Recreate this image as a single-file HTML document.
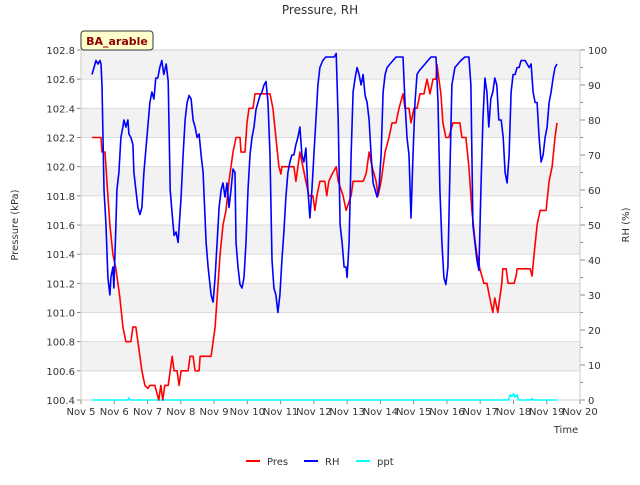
<!DOCTYPE html>
<html><head><meta charset="utf-8"><style>
body{margin:0;background:#fff;font-family:"Liberation Sans","DejaVu Sans",sans-serif}
svg text{font-family:"DejaVu Sans","Liberation Sans",sans-serif}
</style></head><body>
<svg id="c" width="640" height="480" xmlns="http://www.w3.org/2000/svg"></svg>
<script>
const presT=[0.33,0.60,0.63,0.72,0.78,0.87,0.96,1.05,1.17,1.26,1.35,1.50,1.56,1.65,1.71,1.77,1.83,1.92,2.01,2.07,2.22,2.28,2.34,2.40,2.46,2.52,2.62,2.68,2.74,2.80,2.89,2.95,3.01,3.22,3.28,3.37,3.43,3.55,3.58,3.91,4.03,4.12,4.18,4.27,4.36,4.45,4.51,4.57,4.66,4.78,4.81,4.93,4.99,5.05,5.17,5.23,5.44,5.68,5.77,5.86,5.95,6.01,6.04,6.40,6.46,6.58,6.67,6.76,6.85,6.97,7.03,7.09,7.18,7.33,7.39,7.45,7.55,7.67,7.73,7.88,7.97,8.12,8.18,8.48,8.57,8.66,8.75,8.87,8.93,9.02,9.14,9.26,9.35,9.47,9.56,9.68,9.74,9.86,9.92,10.01,10.10,10.19,10.31,10.40,10.49,10.58,10.67,10.70,10.76,10.82,10.88,10.97,11.06,11.18,11.39,11.45,11.57,11.66,11.75,11.84,11.90,11.99,12.11,12.20,12.29,12.38,12.44,12.53,12.65,12.68,12.78,12.84,13.02,13.08,13.11,13.50,13.56,13.62,13.71,13.80,13.98,14.07,14.16,14.25,14.31];
const presV=[102.2,102.2,102.1,102.1,101.9,101.6,101.4,101.3,101.1,100.9,100.8,100.8,100.9,100.9,100.8,100.7,100.6,100.5,100.48,100.5,100.5,100.45,100.4,100.5,100.4,100.5,100.5,100.6,100.7,100.6,100.6,100.5,100.6,100.6,100.7,100.7,100.6,100.6,100.7,100.7,100.9,101.2,101.4,101.6,101.7,101.9,102.0,102.1,102.2,102.2,102.1,102.1,102.3,102.4,102.4,102.5,102.5,102.5,102.4,102.2,102.0,101.95,102.0,102.0,101.9,102.1,102.0,101.9,101.8,101.8,101.7,101.8,101.9,101.9,101.8,101.9,101.95,102.0,101.9,101.8,101.7,101.8,101.9,101.9,101.95,102.1,102.0,101.9,101.8,101.9,102.1,102.2,102.3,102.3,102.4,102.5,102.4,102.4,102.3,102.4,102.4,102.5,102.5,102.6,102.5,102.6,102.6,102.7,102.6,102.5,102.3,102.2,102.2,102.3,102.3,102.2,102.2,102.0,101.7,101.5,101.4,101.3,101.2,101.2,101.1,101.0,101.1,101.0,101.2,101.3,101.3,101.2,101.2,101.25,101.3,101.3,101.25,101.4,101.6,101.7,101.7,101.9,102.0,102.2,102.3];
const rhT=[0.33,0.39,0.45,0.51,0.57,0.60,0.63,0.69,0.75,0.81,0.87,0.90,0.96,0.99,1.05,1.08,1.14,1.20,1.26,1.29,1.35,1.41,1.44,1.50,1.56,1.59,1.65,1.71,1.77,1.83,1.89,1.98,2.07,2.13,2.19,2.25,2.31,2.37,2.43,2.49,2.56,2.62,2.68,2.74,2.80,2.86,2.92,3.01,3.07,3.13,3.19,3.25,3.31,3.37,3.43,3.49,3.55,3.61,3.67,3.76,3.82,3.91,3.97,4.03,4.09,4.15,4.21,4.27,4.33,4.39,4.45,4.51,4.57,4.63,4.66,4.72,4.78,4.84,4.90,4.96,5.02,5.08,5.14,5.20,5.26,5.32,5.38,5.44,5.50,5.56,5.62,5.68,5.74,5.80,5.86,5.92,5.98,6.04,6.10,6.16,6.22,6.28,6.34,6.40,6.46,6.52,6.58,6.64,6.70,6.76,6.82,6.88,6.94,7.00,7.06,7.12,7.18,7.27,7.36,7.48,7.61,7.67,7.73,7.79,7.85,7.91,7.97,8.00,8.06,8.12,8.18,8.24,8.30,8.36,8.42,8.48,8.54,8.60,8.66,8.72,8.78,8.84,8.90,8.96,9.02,9.08,9.14,9.20,9.29,9.38,9.47,9.56,9.68,9.74,9.80,9.86,9.92,9.98,10.04,10.10,10.16,10.25,10.34,10.43,10.52,10.67,10.73,10.79,10.85,10.91,10.97,11.03,11.09,11.15,11.24,11.33,11.42,11.54,11.66,11.72,11.78,11.84,11.90,11.96,12.02,12.08,12.14,12.20,12.26,12.32,12.38,12.44,12.50,12.56,12.63,12.69,12.75,12.81,12.87,12.93,12.99,13.05,13.11,13.17,13.23,13.29,13.35,13.41,13.47,13.53,13.59,13.65,13.71,13.77,13.83,13.89,13.95,14.01,14.07,14.13,14.19,14.25,14.31];
const rhV=[93,95,97,96,97,96,90,60,50,35,30,35,38,32,50,60,65,75,78,80,78,80,76,75,73,65,60,55,53,55,65,75,85,88,86,92,92,95,97,93,96,91,60,53,47,48,45,58,70,80,85,87,86,80,78,75,76,70,65,45,38,30,28,35,45,55,60,62,58,62,55,60,66,65,45,38,33,32,35,45,60,70,75,78,83,85,87,88,90,91,85,70,40,32,30,25,30,40,48,58,65,68,70,70,73,75,78,70,68,72,60,52,60,70,80,90,95,97,98,98,98,99,80,50,45,38,38,35,45,70,88,92,95,93,90,93,87,85,80,70,62,60,58,61,70,88,93,95,96,97,98,98,98,85,75,70,52,70,85,93,94,95,96,97,98,98,85,60,45,35,33,38,65,90,95,96,97,98,98,90,50,45,40,37,60,80,92,88,78,86,88,92,90,80,80,75,65,62,70,88,93,93,95,95,97,97,97,96,95,96,88,85,85,75,68,70,75,78,85,88,92,95,96];
const pptT=[0.33,1.40,1.44,1.48,12.85,12.90,12.95,13.00,13.05,13.10,13.15,13.50,13.55,13.60,14.31];
const pptV=[0,0,0.6,0,0,1.5,1.0,1.8,0.8,1.5,0,0,0.4,0,0];
const xTicks=["Nov 5","Nov 6","Nov 7","Nov 8","Nov 9","Nov 10","Nov 11","Nov 12","Nov 13","Nov 14","Nov 15","Nov 16","Nov 17","Nov 18","Nov 19","Nov 20"];
const yLTicks=[100.4,100.6,100.8,101.0,101.2,101.4,101.6,101.8,102.0,102.2,102.4,102.6,102.8];
const yRTicks=[0,10,20,30,40,50,60,70,80,90,100];

const L=81,R=580,T=50,B=400,NS='http://www.w3.org/2000/svg';
const sx=d=>L+d*(R-L)/15;
const syL=v=>B-(v-100.4)/2.4*(B-T);
const syR=v=>B-v/100*(B-T);
const svg=document.getElementById('c');
function mk(tag,at,txt){const e=document.createElementNS(NS,tag);for(const k in at)e.setAttribute(k,at[k]);if(txt!=null)e.textContent=txt;svg.appendChild(e);return e;}

for(let i=0;i<12;i+=2){const r=mk('rect',{x:L,y:syL(yLTicks[12-i]),width:R-L,height:syL(yLTicks[11-i])-syL(yLTicks[12-i]),fill:'#f2f2f2'});

}
yLTicks.forEach(v=>{const g=mk('line',{x1:L,x2:R,y1:syL(v),y2:syL(v),stroke:'#dcdcdc','stroke-width':1});


const t=mk('text',{x:L-6,y:syL(v)+4,'text-anchor':'end','font-size':10,fill:'#333'},v.toFixed(1));


mk('line',{x1:L-4,x2:L,y1:syL(v),y2:syL(v),stroke:'#888'});});
for(let v=0;v<=100;v+=5){mk('line',{x1:R,x2:R+(v%10?3:5),y1:syR(v),y2:syR(v),stroke:'#888'});}
yRTicks.forEach(v=>{const t=mk('text',{x:R+8,y:syR(v)+4,'font-size':10,fill:'#333'},String(v));

});
xTicks.forEach((s,i)=>{mk('line',{x1:sx(i),x2:sx(i),y1:B,y2:B+4,stroke:'#888'});
const t=mk('text',{x:sx(i),y:B+15,'text-anchor':'middle','font-size':10,fill:'#333'},s);

});
mk('rect',{x:L,y:T,width:R-L,height:B-T,fill:'none',stroke:'#ccc'});

function line(ts,vs,f,col,name){const p=ts.map((t,i)=>(i?'L':'M')+sx(t).toFixed(1)+','+f(vs[i]).toFixed(1)).join('');
const e=mk('path',{d:p,fill:'none',stroke:col,'stroke-width':1.6,'stroke-linejoin':'round'});

}
line(pptT,pptV,syR,'#00ffff','ppt-line');
line(presT,presV,syL,'#ff0000','pres-line');
line(rhT,rhV,syR,'#0000ff','rh-line');

let e;
e=mk('text',{x:320,y:14,'text-anchor':'middle','font-size':12,fill:'#333'},'Pressure, RH');


e=mk('text',{x:18,y:225,'text-anchor':'middle','font-size':10,fill:'#333',transform:'rotate(-90 18 225)'},'Pressure (kPa)');


e=mk('text',{x:629,y:225,'text-anchor':'middle','font-size':10,fill:'#333',transform:'rotate(-90 629 225)'},'RH (%)');


e=mk('text',{x:566,y:433,'text-anchor':'middle','font-size':10,fill:'#333'},'Time');


e=mk('rect',{x:81,y:31,width:72,height:19,rx:3,fill:'#ffffcc',stroke:'#333'});


e=mk('text',{x:117,y:45,'text-anchor':'middle','font-size':11,'font-weight':'bold',fill:'#8b0000'},'BA_arable');


[['Pres','#ff0000',246],['RH','#0000ff',304],['ppt','#00ffff',356]].forEach(([n,c,x])=>{
const l=mk('line',{x1:x,x2:x+14,y1:461,y2:461,stroke:c,'stroke-width':2});


const t=mk('text',{x:x+21,y:465,'font-size':10,fill:'#333'},n);

});
</script>
</body></html>
